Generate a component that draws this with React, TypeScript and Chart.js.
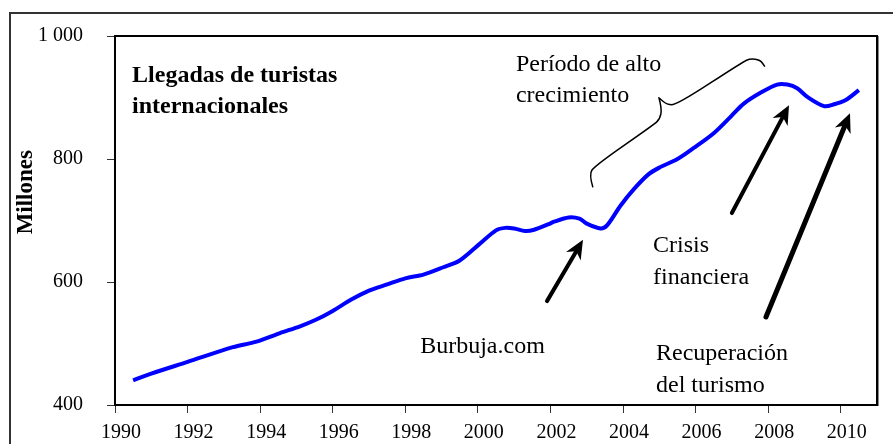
import React, { useEffect, useRef } from "react";
import { Chart, registerables } from "chart.js";

Chart.register(...registerables);

// Series (year, millions of arrivals)
const years = [
  1990.5, 1991.0, 1992.0, 1993.25, 1993.9, 1994.55, 1995.1, 1995.55, 1996.0, 1996.5,
  1997.0, 1997.5, 1998.0, 1998.5, 1999.05, 1999.5, 2000.05, 2000.5, 2000.75, 2001.0,
  2001.3, 2001.55, 2001.95, 2002.1, 2002.5, 2002.8, 2003.0, 2003.38, 2003.56, 2003.93,
  2004.3, 2004.7, 2005.0, 2005.5, 2005.95, 2006.5, 2006.97, 2007.33, 2007.8, 2008.25,
  2008.53, 2008.8, 2009.08, 2009.54, 2009.82, 2010.14, 2010.5,
];
const arrivals = [
  440, 451, 470, 494, 503, 517, 528, 539, 553, 571,
  586, 596, 606, 612, 624, 635, 662, 684, 688, 687,
  683, 685, 694, 698, 705, 703, 695, 687, 692, 724,
  751, 775, 786, 800, 818, 842, 869, 890, 908, 921,
  921, 915, 901, 886, 889, 896, 912,
];
const xTicks = [1990, 1992, 1994, 1996, 1998, 2000, 2002, 2004, 2006, 2008, 2010];
const yTicks = [400, 600, 800, 1000];

const titleLines = ["Llegadas de turistas", "internacionales"];
const yAxisTitle = "Millones";
const periodLines = ["Período de alto", "crecimiento"];
const bubbleLines = ["Burbuja.com"];
const crisisLines = ["Crisis", "financiera"];
const recoveryLines = ["Recuperación", "del turismo"];

const SERIF = '"Liberation Serif", "Times New Roman", serif';

function fmt(v: number): string {
  const s = String(Math.round(v));
  return s.length > 3 ? s.slice(0, s.length - 3) + " " + s.slice(-3) : s;
}

const annotPlugin = {
  id: "annot",
  afterDraw(chart: any) {
    const ctx = chart.ctx as CanvasRenderingContext2D;
    const xs = chart.scales.x;
    const ys = chart.scales.y;
    const px = (v: number) => xs.getPixelForValue(v);
    const py = (v: number) => ys.getPixelForValue(v);
    const ca = chart.chartArea;

    ctx.save();
    // outer frame
    ctx.strokeStyle = "#333";
    ctx.lineWidth = 2;
    ctx.strokeRect(10, 13, chart.width + 20, chart.height + 20);

    // plot frame (top & right)
    ctx.strokeStyle = "#000";
    ctx.lineWidth = 2;
    ctx.beginPath();
    ctx.moveTo(ca.left, ca.top);
    ctx.lineTo(ca.right, ca.top);
    ctx.lineTo(ca.right, ca.bottom);
    ctx.stroke();
    ctx.strokeStyle = "#888";
    ctx.lineWidth = 1;
    ctx.beginPath();
    ctx.moveTo(ca.right + 1.5, ca.top);
    ctx.lineTo(ca.right + 1.5, ca.bottom + 1);
    ctx.stroke();

    // y-axis title
    ctx.fillStyle = "#000";
    ctx.save();
    ctx.translate(26, py(746));
    ctx.rotate(-Math.PI / 2);
    ctx.font = "bold 23px " + SERIF;
    ctx.textAlign = "center";
    ctx.textBaseline = "middle";
    ctx.fillText(yAxisTitle, 0, 0);
    ctx.restore();

    const text = (lines: string[], x: number, y: number, font: string, lh: number) => {
      ctx.font = font;
      ctx.textAlign = "left";
      ctx.textBaseline = "alphabetic";
      lines.forEach((l, i) => ctx.fillText(l, px(x), py(y) + i * lh));
    };
    text(titleLines, 1990.47, 924.4, "bold 24px " + SERIF, 31);
    text(periodLines, 2001.05, 943.7, "24px " + SERIF, 31);
    text(bubbleLines, 1998.41, 485.3, "24px " + SERIF, 32);
    text(crisisLines, 2004.83, 649.3, "24px " + SERIF, 32);
    text(recoveryLines, 2004.91, 472.4, "24px " + SERIF, 32);

    // arrows
    const arrow = (x1: number, y1: number, x2: number, y2: number, w: number) => {
      const ax = px(x1), ay = py(y1), bx = px(x2), by = py(y2);
      const ang = Math.atan2(by - ay, bx - ax);
      const dx = Math.cos(ang), dy = Math.sin(ang);
      const hl = 19, hw = 8.5;
      ctx.strokeStyle = "#000";
      ctx.lineWidth = w;
      ctx.lineCap = "round";
      ctx.beginPath();
      ctx.moveTo(ax, ay);
      ctx.lineTo(bx - dx * hl * 0.6, by - dy * hl * 0.6);
      ctx.stroke();
      ctx.fillStyle = "#000";
      ctx.beginPath();
      ctx.moveTo(bx, by);
      ctx.lineTo(bx - dx * hl - dy * hw, by - dy * hl + dx * hw);
      ctx.lineTo(bx - dx * hl * 0.7, by - dy * hl * 0.7);
      ctx.lineTo(bx - dx * hl + dy * hw, by - dy * hl - dx * hw);
      ctx.closePath();
      ctx.fill();
    };
    arrow(2001.905, 568.9, 2002.897, 668.6, 4);
    arrow(2007.0, 712.1, 2008.575, 887.4, 4);
    arrow(2007.94, 543.2, 2010.256, 874.5, 5);

    // curly brace
    const brace: [number, number][] = [
      [2003.17, 753.9], [2003.06, 774.8], [2003.23, 789.3], [2004.83, 855.2],
      [2005.02, 864.9], [2005.07, 882.6], [2004.99, 899.5], [2005.21, 888.2],
      [2005.49, 888.2], [2007.31, 958.2], [2007.5, 963.0], [2007.78, 961.4],
      [2007.91, 950.1],
    ];
    const pts = brace.map(([x, y]) => [px(x), py(y)]);
    ctx.strokeStyle = "#000";
    ctx.lineWidth = 1.5;
    ctx.lineJoin = "round";
    ctx.lineCap = "butt";
    ctx.beginPath();
    ctx.moveTo(pts[0][0], pts[0][1]);
    for (let i = 1; i < pts.length - 1; i++) {
      const mx = (pts[i][0] + pts[i + 1][0]) / 2;
      const my = (pts[i][1] + pts[i + 1][1]) / 2;
      if (i === 5) {
        ctx.quadraticCurveTo(pts[i][0], pts[i][1], pts[i + 1][0], pts[i + 1][1]);
      } else if (i === 6) {
        ctx.quadraticCurveTo(pts[i][0], pts[i][1], mx, my);
      } else {
        ctx.quadraticCurveTo(pts[i][0], pts[i][1], mx, my);
      }
    }
    ctx.lineTo(pts[pts.length - 1][0], pts[pts.length - 1][1]);
    ctx.stroke();
    ctx.restore();
  },
};

export default function App() {
  const ref = useRef<HTMLCanvasElement | null>(null);
  useEffect(() => {
    if (!ref.current) return;
    const chart = new Chart(ref.current, {
      type: "line",
      data: {
        datasets: [
          {
            data: years.map((x, i) => ({ x, y: arrivals[i] })),
            borderColor: "#0000FF",
            borderWidth: 4,
            pointRadius: 0,
            tension: 0.3,
            fill: false,
          },
        ],
      },
      options: {
        animation: false,
        responsive: false,
        devicePixelRatio: 1,
        layout: { padding: { top: 32, right: 16, left: 0, bottom: 0 } },
        plugins: { legend: { display: false }, tooltip: { enabled: false } },
        scales: {
          x: {
            type: "linear",
            min: 1990,
            max: 2011,
            afterBuildTicks: (s: any) => {
              s.ticks = xTicks.map((v) => ({ value: v }));
            },
            afterFit: (s: any) => {
              s.height = 39;
            },
            grid: { display: true, drawOnChartArea: false, drawTicks: true, tickLength: 8, color: "#333", lineWidth: 1 },
            border: { display: true, color: "#000", width: 2 },
            ticks: {
              callback: (v: any) => String(v),
              font: { family: SERIF, size: 20 },
              color: "#000",
              padding: 8,
              labelOffset: 6,
              maxRotation: 0,
              autoSkip: false,
            },
          },
          y: {
            type: "linear",
            min: 400,
            max: 1000,
            afterBuildTicks: (s: any) => {
              s.ticks = yTicks.map((v) => ({ value: v }));
            },
            afterFit: (s: any) => {
              s.width = 115;
            },
            grid: { display: true, drawOnChartArea: false, drawTicks: true, tickLength: 8, color: "#333", lineWidth: 1 },
            border: { display: true, color: "#000", width: 2 },
            ticks: {
              callback: (v: any) => fmt(Number(v)),
              font: { family: SERIF, size: 20 },
              color: "#000",
              padding: 24,
            },
          },
        },
      },
      plugins: [annotPlugin],
    } as any);
    return () => chart.destroy();
  }, []);
  return (
    <div style={{ position: "absolute", left: 0, top: 0, width: 893, height: 444, background: "#fff" }}>
      <canvas ref={ref} width={893} height={444} style={{ display: "block" }} />
    </div>
  );
}
